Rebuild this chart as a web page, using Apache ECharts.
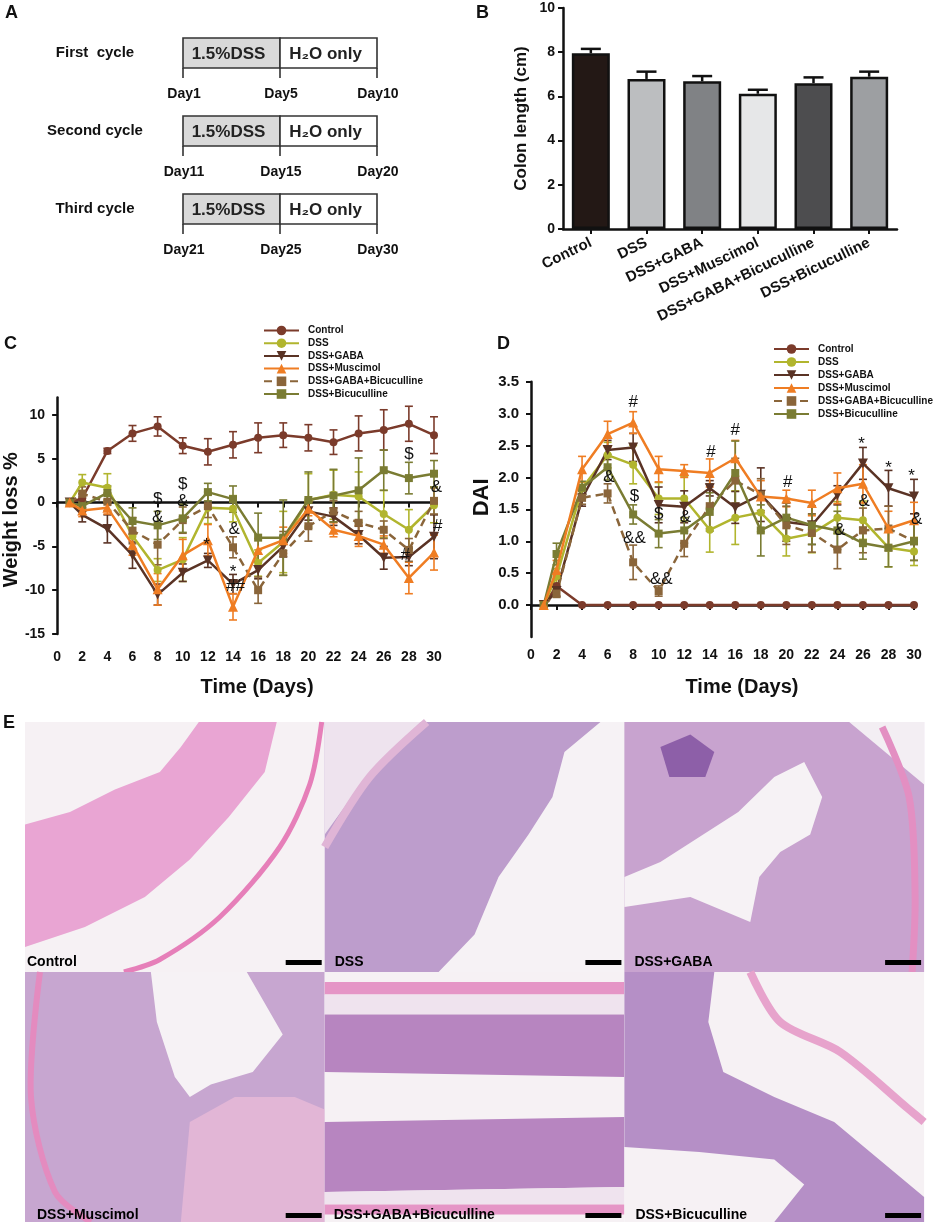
<!DOCTYPE html>
<html><head><meta charset="utf-8">
<script src="https://cdn.jsdelivr.net/npm/echarts@6/dist/echarts.min.js"></script>
<style>html,body{margin:0;padding:0;background:#fff}#c{width:936px;height:1222px}</style>
</head><body><div id="c"></div>
<script>
const FONT = '"Liberation Sans", Arial, Helvetica, sans-serif';
const INK = '#111';

// ---------- Panel A ----------
const cycles = ['First  cycle', 'Second cycle', 'Third cycle'];
const cycleDays = [['Day1', 'Day5', 'Day10'], ['Day11', 'Day15', 'Day20'], ['Day21', 'Day25', 'Day30']];
const phases = ['1.5%DSS', 'H\u2082O only'];

// ---------- Panel B ----------
const groups = ['Control', 'DSS', 'DSS+GABA', 'DSS+Muscimol', 'DSS+GABA+Bicuculline', 'DSS+Bicuculline'];
const colonLength = [7.95, 6.79, 6.68, 6.12, 6.6, 6.89];
const colonErr = [0.2, 0.33, 0.24, 0.18, 0.26, 0.23];

// ---------- Panels C & D ----------
const days = [1, 2, 4, 6, 8, 10, 12, 14, 16, 18, 20, 22, 24, 26, 28, 30];
const seriesNames = ['Control', 'DSS', 'DSS+GABA', 'DSS+Muscimol', 'DSS+GABA+Bicuculline', 'DSS+Bicuculline'];

// Weight loss %
const wControl = [0, 0.5, 5.9, 7.9, 8.7, 6.5, 5.8, 6.6, 7.4, 7.7, 7.4, 6.9, 7.9, 8.3, 9.0, 7.7];
const wControlErr = [0, 0.5, 0.3, 0.9, 1.1, 0.9, 1.5, 1.5, 1.7, 1.4, 1.5, 1.4, 2.0, 2.3, 2.0, 2.1];
const wDSS = [0, 2.3, 1.7, -3.8, -7.7, -6.5, -0.6, -0.7, -6.9, -4.5, 0.3, 0.9, 0.7, -1.3, -3.1, -0.3];
const wDSSErr = [0, 0.9, 1.6, 1.5, 1.3, 2.5, 1.8, 1.5, 1.5, 3.5, 3.0, 2.8, 2.8, 2.7, 2.3, 2.0];
const wGABA = [0, -1.4, -3.0, -6.0, -10.5, -8.0, -6.6, -9.3, -7.7, -5.0, -1.0, -1.6, -3.7, -6.3, -6.2, -3.9];
const wGABAErr = [0, 0.8, 1.6, 1.5, 1.2, 1.0, 0.8, 1.1, 1.0, 1.2, 1.0, 1.0, 1.0, 1.3, 1.0, 2.5];
const wMusc = [0, -0.9, -0.6, -4.8, -9.9, -6.0, -4.3, -11.9, -5.4, -4.3, -0.7, -3.1, -3.8, -4.8, -8.6, -5.7];
const wMuscErr = [0, 0.7, 0.7, 1.2, 1.8, 1.8, 1.8, 1.5, 1.3, 1.5, 0.8, 0.8, 1.2, 1.0, 1.8, 2.0];
const wGABABic = [0, 1.0, 0.1, -3.2, -4.8, -2.0, -0.4, -5.1, -10.0, -5.8, -2.7, -1.0, -2.3, -3.1, -5.4, 0.2];
const wGABABicErr = [0, 0.8, 1.0, 1.5, 2.3, 1.5, 1.3, 1.2, 1.5, 2.5, 1.7, 1.2, 1.3, 1.0, 1.3, 1.5];
const wBic = [0, -0.4, 1.1, -2.1, -2.6, -1.8, 1.2, 0.4, -4.0, -4.0, 0.3, 0.8, 1.4, 3.7, 2.8, 3.3];
const wBicErr = [0, 0.6, 0.8, 1.5, 1.6, 1.6, 1.0, 1.5, 2.8, 4.3, 3.2, 3.0, 3.7, 2.3, 1.8, 1.5];
const yTicksC = [-15, -10, -5, 0, 5, 10];
const marksC = [
  [8, 0.4, '$'], [8, -1.7, '&'], [10, 2.1, '$'], [10, 0.1, '&'], [11.9, -4.3, '*'],
  [14.1, -3.1, '&'], [14, -7.4, '*'], [14.2, -9.5, '##'], [28, 5.5, '$'], [27.7, -6.0, '#'],
  [30.2, 1.8, '&'], [30.3, -2.7, '#']
];

// DAI
const dControl = [0, 0.3, 0, 0, 0, 0, 0, 0, 0, 0, 0, 0, 0, 0, 0, 0];
const dControlErr = [0, 0, 0, 0, 0, 0, 0, 0, 0, 0, 0, 0, 0, 0, 0, 0];
const dDSS = [0, 0.45, 1.83, 2.35, 2.2, 1.67, 1.67, 1.18, 1.37, 1.45, 1.04, 1.12, 1.37, 1.33, 0.9, 0.84];
const dDSSErr = [0, 0.12, 0.1, 0.2, 0.3, 0.25, 0.35, 0.35, 0.42, 0.3, 0.27, 0.3, 0.25, 0.3, 0.3, 0.22];
const dGABA = [0, 0.22, 1.67, 2.43, 2.47, 1.57, 1.54, 1.83, 1.53, 1.73, 1.3, 1.25, 1.72, 2.22, 1.83, 1.7];
const dGABAErr = [0, 0.08, 0.12, 0.15, 0.22, 0.28, 0.25, 0.12, 0.25, 0.42, 0.3, 0.3, 0.15, 0.25, 0.28, 0.27];
const dMusc = [0, 0.55, 2.13, 2.68, 2.86, 2.13, 2.1, 2.07, 2.3, 1.7, 1.67, 1.6, 1.83, 1.9, 1.2, 1.33];
const dMuscErr = [0, 0.15, 0.2, 0.2, 0.17, 0.2, 0.1, 0.22, 0.28, 0.25, 0.13, 0.2, 0.24, 0.3, 0.27, 0.28];
const dGABABic = [0, 0.18, 1.68, 1.75, 0.67, 0.22, 0.96, 1.55, 1.95, 1.73, 1.25, 1.13, 0.87, 1.17, 1.2, 1.0];
const dGABABicErr = [0, 0.06, 0.1, 0.15, 0.27, 0.08, 0.2, 0.35, 0.35, 0.25, 0.3, 0.3, 0.3, 0.35, 0.35, 0.3];
const dBic = [0, 0.8, 1.84, 2.16, 1.42, 1.12, 1.17, 1.46, 2.07, 1.17, 1.37, 1.25, 1.17, 0.97, 0.9, 1.0];
const dBicErr = [0, 0.17, 0.1, 0.2, 0.15, 0.22, 0.2, 0.3, 0.5, 0.4, 0.3, 0.3, 0.3, 0.25, 0.3, 0.3];
const yTicksD = [0, 0.5, 1, 1.5, 2, 2.5, 3, 3.5];
const marksD = [
  [8, 3.17, '#'], [6.1, 2.0, '&'], [8.1, 1.71, '$'], [8.1, 1.05, '&&'], [10, 1.43, '$'],
  [10.2, 0.4, '&&'], [12.1, 1.37, '&'], [14.1, 2.4, '#'], [16, 2.74, '#'], [20.1, 1.92, '#'],
  [24.2, 1.17, '&'], [25.9, 2.6, '*'], [26.1, 1.62, '&'], [28, 2.22, '*'], [29.8, 2.09, '*'],
  [30.2, 1.34, '&']
];

// ---------- Panel E labels ----------
const photoLabels = ['Control', 'DSS', 'DSS+GABA', 'DSS+Muscimol', 'DSS+GABA+Bicuculline', 'DSS+Bicuculline'];

// ---------- styles ----------
const barColors = ['#231815', '#bcbec0', '#808285', '#e6e7e8', '#4d4d4f', '#9d9fa2'];
const lineColors = ['#7b3b2b', '#b1b52e', '#5a3325', '#ef7d23', '#8a653a', '#7a7c33'];
const symbols = ['circle', 'circle', 'triangle', 'triangle', 'rect', 'rect'];
const symbolRot = [0, 0, 180, 0, 0, 0];
const symbolSizes = [8, 8, 10, 10, 8, 8];
const dashed = [false, false, false, false, true, false];

const wVals = [wControl, wDSS, wGABA, wMusc, wGABABic, wBic];
const wErrs = [wControlErr, wDSSErr, wGABAErr, wMuscErr, wGABABicErr, wBicErr];
const dVals = [dControl, dDSS, dGABA, dMusc, dGABABic, dBic];
const dErrs = [dControlErr, dDSSErr, dGABAErr, dMuscErr, dGABABicErr, dBicErr];

// ---------- helpers ----------
function errBarRender(color, capW, lw, upOnly) {
  return function (params, api) {
    const x = api.value(0), lo = api.value(1), hi = api.value(2);
    if (hi === lo) return null;
    const p1 = api.coord([x, lo]), p2 = api.coord([x, hi]);
    const st = { stroke: color, lineWidth: lw };
    const ch = [
      { type: 'line', shape: { x1: p1[0], y1: p1[1], x2: p2[0], y2: p2[1] }, style: st },
      { type: 'line', shape: { x1: p2[0] - capW / 2, y1: p2[1], x2: p2[0] + capW / 2, y2: p2[1] }, style: st }
    ];
    if (!upOnly) ch.push({ type: 'line', shape: { x1: p1[0] - capW / 2, y1: p1[1], x2: p1[0] + capW / 2, y2: p1[1] }, style: st });
    return { type: 'group', children: ch };
  };
}
function markRender(marks) {
  return function (params, api) {
    const m = marks[params.dataIndex];
    const p = api.coord([m[0], m[1]]);
    const dy = m[2] === '*' ? 5 : 0;
    return { type: 'text', style: { x: p[0], y: p[1] + dy, text: m[2], align: 'center', verticalAlign: 'middle',
      fontSize: 17, fontFamily: FONT, fill: INK } };
  };
}

const series = [];

// Panel A schematic
series.push({
  type: 'custom', xAxisIndex: 0, yAxisIndex: 0, silent: true,
  data: cycles.map((c, i) => [0, i]),
  encode: { x: 0, y: 1 },
  renderItem: function (params, api) {
    const i = params.dataIndex;
    const c0 = api.coord([0, i]), c1 = api.coord([1, i]), c2 = api.coord([2, i]);
    const h = 30, top = c0[1] - h / 2;
    const st = { stroke: '#333', lineWidth: 1.6 };
    const ch = [
      { type: 'rect', shape: { x: c0[0], y: top, width: c1[0] - c0[0], height: h }, style: Object.assign({ fill: '#d9d9d9' }, st) },
      { type: 'rect', shape: { x: c1[0], y: top, width: c2[0] - c1[0], height: h }, style: Object.assign({ fill: '#fff' }, st) },
      { type: 'text', style: { x: (c0[0] + c1[0]) / 2 - 3, y: c0[1] + 1, text: phases[0], align: 'center', verticalAlign: 'middle', fontSize: 17, fontWeight: 'bold', fontFamily: FONT, fill: '#222' } },
      { type: 'text', style: { x: (c1[0] + c2[0]) / 2 - 3, y: c0[1] + 1, text: phases[1], align: 'center', verticalAlign: 'middle', fontSize: 17, fontWeight: 'bold', fontFamily: FONT, fill: '#222' } }
    ];
    [c0, c1, c2].forEach((c, k) => {
      ch.push({ type: 'line', shape: { x1: c[0], y1: top + h, x2: c[0], y2: top + h + 10 }, style: st });
      ch.push({ type: 'text', style: { x: c[0] + 1, y: c0[1] + 41, text: cycleDays[i][k], align: 'center', verticalAlign: 'middle', fontSize: 14, fontWeight: 'bold', fontFamily: FONT, fill: INK } });
    });
    return { type: 'group', children: ch };
  }
});

// Panel B bars
series.push({
  type: 'bar', xAxisIndex: 1, yAxisIndex: 1, barWidth: 38, silent: true,
  data: colonLength.map((v, i) => ({ value: v, itemStyle: { color: barColors[i], borderColor: INK, borderWidth: 2.5 } }))
});
series.push({
  type: 'custom', xAxisIndex: 1, yAxisIndex: 1, silent: true, z: 3,
  data: colonLength.map((v, i) => [i, v, v + colonErr[i]]),
  renderItem: errBarRender(INK, 20, 2.5, true)
});

// Panels C & D lines + error bars
function addLines(vals, errs, ax) {
  vals.forEach((v, i) => {
    series.push({
      type: 'custom', xAxisIndex: ax, yAxisIndex: ax, silent: true, z: 1,
      data: days.map((d, k) => [d, v[k] - errs[i][k], v[k] + errs[i][k]]),
      renderItem: errBarRender(lineColors[i], 8, 1.6, false)
    });
  });
  vals.forEach((v, i) => {
    series.push({
      type: 'line', name: seriesNames[i], xAxisIndex: ax, yAxisIndex: ax, silent: true, z: 2 + (i === 3 ? 1 : 0),
      data: days.map((d, k) => [d, v[k]]),
      symbol: symbols[i], symbolRotate: symbolRot[i], symbolSize: symbolSizes[i], showSymbol: true,
      lineStyle: { color: lineColors[i], width: 2.5, type: dashed[i] ? [8, 5] : 'solid' },
      itemStyle: { color: lineColors[i] }
    });
  });
}
addLines(wVals, wErrs, 2);
addLines(dVals, dErrs, 3);
series.push({ type: 'custom', xAxisIndex: 2, yAxisIndex: 2, silent: true, z: 5, data: marksC.map(m => [m[0], m[1]]), renderItem: markRender(marksC) });
series.push({ type: 'custom', xAxisIndex: 3, yAxisIndex: 3, silent: true, z: 5, data: marksD.map(m => [m[0], m[1]]), renderItem: markRender(marksD) });

// axis styles
const axLine = { show: true, lineStyle: { color: INK, width: 2.5 } };
const axTick = { show: true, length: 5, lineStyle: { color: INK, width: 2 } };
const lab = (size, margin) => ({ color: INK, fontSize: size, fontWeight: 'bold', fontFamily: FONT, margin: margin });

// Panel E decoration (photo placeholders)
const photoShapes = [
  [
    { fill: '#e9a5d3', pts: [[0, 0.41], [0.15, 0.36], [0.3, 0.27], [0.45, 0.2], [0.52, 0.1], [0.58, 0], [0.84, 0], [0.8, 0.2], [0.68, 0.38], [0.55, 0.55], [0.4, 0.7], [0.2, 0.82], [0, 0.9]] },
    { stroke: '#e67fb9', w: 5, pts: [[0.99, 0], [0.95, 0.25], [0.85, 0.5], [0.65, 0.78], [0.45, 0.95], [0.33, 1]] }
  ],
  [
    { fill: '#bd9dcc', pts: [[0, 0], [1, 0], [1, 1], [0, 1]] },
    { fill: '#f6f2f5', pts: [[0.8, 0.12], [0.92, 0], [1, 0], [1, 1], [0.38, 1], [0.5, 0.85], [0.58, 0.62], [0.68, 0.45], [0.76, 0.3]] },
    { fill: '#eee3ee', pts: [[0, 0], [0.32, 0], [0.15, 0.2], [0, 0.45]] },
    { stroke: '#e0b5d6', w: 8, pts: [[0, 0.5], [0.15, 0.22], [0.34, 0]] }
  ],
  [
    { fill: '#c8a3cf', pts: [[0, 0], [1, 0], [1, 1], [0, 1]] },
    { fill: '#f6f2f5', pts: [[0, 0.62], [0.12, 0.56], [0.25, 0.46], [0.38, 0.36], [0.5, 0.22], [0.6, 0.16], [0.66, 0.3], [0.62, 0.45], [0.52, 0.52], [0.45, 0.62], [0.42, 0.8], [0.34, 0.76], [0.22, 0.7], [0, 0.74]] },
    { fill: '#f3eef3', pts: [[0.75, 0], [1, 0], [1, 0.25]] },
    { stroke: '#e38fc2', w: 7, pts: [[0.86, 0.02], [0.95, 0.3], [0.97, 0.7], [0.96, 1]] },
    { fill: '#8d5fa8', pts: [[0.12, 0.1], [0.22, 0.05], [0.3, 0.12], [0.27, 0.22], [0.15, 0.22]] }
  ],
  [
    { fill: '#c7a6d0', pts: [[0, 0], [1, 0], [1, 1], [0, 1]] },
    { fill: '#f6f2f5', pts: [[0.42, 0], [0.74, 0], [0.86, 0.25], [0.76, 0.4], [0.62, 0.45], [0.55, 0.5], [0.5, 0.42], [0.44, 0.2]] },
    { fill: '#e2b6d6', pts: [[0.55, 0.6], [0.7, 0.5], [0.9, 0.5], [1, 0.55], [1, 1], [0.52, 1]] },
    { stroke: '#e48bbf', w: 6, pts: [[0.05, 0], [0.02, 0.5], [0.1, 0.88], [0.22, 1]] }
  ],
  [
    { fill: '#e595c6', pts: [[0, 0.04], [1, 0.04], [1, 0.09], [0, 0.09]] },
    { fill: '#efe3ee', pts: [[0, 0.09], [1, 0.09], [1, 0.17], [0, 0.17]] },
    { fill: '#b785c0', pts: [[0, 0.17], [1, 0.17], [1, 0.42], [0, 0.4]] },
    { fill: '#b785c0', pts: [[0, 0.6], [1, 0.58], [1, 0.86], [0, 0.88]] },
    { fill: '#efe3ee', pts: [[0, 0.88], [1, 0.86], [1, 0.93], [0, 0.93]] },
    { fill: '#e595c6', pts: [[0, 0.93], [1, 0.93], [1, 0.97], [0, 0.97]] }
  ],
  [
    { fill: '#b58fc6', pts: [[0, 0], [0.3, 0], [0.28, 0.2], [0.33, 0.4], [0.5, 0.5], [0.7, 0.6], [0.9, 0.8], [1, 0.9], [1, 1], [0.5, 1], [0.6, 0.85], [0.5, 0.75], [0.25, 0.72], [0, 0.7]] },
    { stroke: '#e7a3cc', w: 8, pts: [[0.42, 0], [0.52, 0.2], [0.72, 0.32], [0.95, 0.55], [1, 0.6]] }
  ]
];
const labelDx = [2, 10, 10, 12, 9, 11];
const graphics = [];
photoLabels.forEach((name, i) => {
  const col = i % 3, row = Math.floor(i / 3);
  const w = 299.7, h = 250;
  const x0 = 25 + col * w, y0 = 722 + row * h;
  graphics.push({ type: 'rect', shape: { x: x0, y: y0, width: w, height: h }, style: { fill: '#f6f1f4' }, silent: true });
  photoShapes[i].forEach(s => {
    const pts = s.pts.map(p => [x0 + p[0] * w, y0 + p[1] * h]);
    if (s.fill) graphics.push({ type: 'polygon', shape: { points: pts }, style: { fill: s.fill }, silent: true });
    else graphics.push({ type: 'polyline', shape: { points: pts, smooth: 0.3 }, style: { stroke: s.stroke, lineWidth: s.w, fill: null }, silent: true });
  });
  const yl = y0 + h - (row === 0 ? 10 : 7);
  graphics.push({ type: 'text', style: { x: x0 + labelDx[i], y: yl, text: name, align: 'left', verticalAlign: 'middle', fontSize: 14, fontWeight: 'bold', fontFamily: FONT, fill: '#000' }, silent: true, z: 10 });
  graphics.push({ type: 'rect', shape: { x: x0 + w - 39, y: yl - 2, width: 36, height: 5 }, style: { fill: '#000' }, silent: true, z: 10 });
});

const legendCommon = {
  data: seriesNames, orient: 'vertical', itemWidth: 35, itemHeight: 12, selectedMode: false,
  textStyle: { fontSize: 10, fontWeight: 'bold', fontFamily: FONT, color: INK, lineHeight: 12, padding: [0, 0, 0, 4] }
};

const option = {
  animation: false,
  backgroundColor: '#fff',
  title: [
    { text: 'A', left: 5, top: 4 }, { text: 'B', left: 476, top: 4 }, { text: 'C', left: 4, top: 335 },
    { text: 'D', left: 497, top: 335 }, { text: 'E', left: 3, top: 714 }
  ].map(t => Object.assign(t, { padding: 0, textStyle: { fontSize: 18, fontWeight: 'bold', fontFamily: FONT, color: INK } })),
  legend: [
    Object.assign({ left: 258, top: 319.5, itemGap: 0.7 }, legendCommon),
    Object.assign({ left: 768, top: 338, itemGap: 1 }, legendCommon)
  ],
  grid: [
    { left: 183, top: 14, width: 194, height: 234 },
    { left: 563, top: 8, width: 334, height: 221 },
    { left: 55, top: 397.5, width: 379, height: 236.5 },
    { left: 531, top: 381.7, width: 383, height: 255.3 }
  ],
  xAxis: [
    { gridIndex: 0, type: 'value', min: 0, max: 2, show: false },
    { gridIndex: 1, type: 'category', data: groups, axisLine: axLine,
      axisTick: Object.assign({ alignWithLabel: true }, axTick),
      axisLabel: Object.assign({ rotate: 26, interval: 0 }, lab(15, 13)) },
    { gridIndex: 2, type: 'value', min: 0, max: 30, interval: 2, splitLine: { show: false },
      axisLine: axLine, axisTick: axTick, axisLabel: lab(14, 16),
      name: 'Time (Days)', nameLocation: 'middle', nameGap: 43,
      nameTextStyle: { fontSize: 20, fontWeight: 'bold', fontFamily: FONT, color: INK, padding: [0, 0, 0, 23] } },
    { gridIndex: 3, type: 'value', min: 0, max: 30, interval: 2, splitLine: { show: false },
      axisLine: axLine, axisTick: axTick, axisLabel: lab(14, 11),
      name: 'Time (Days)', nameLocation: 'middle', nameGap: 40,
      nameTextStyle: { fontSize: 20, fontWeight: 'bold', fontFamily: FONT, color: INK, padding: [0, 0, 0, 39] } }
  ],
  yAxis: [
    { gridIndex: 0, type: 'category', data: cycles, inverse: true, axisLine: { show: false }, axisTick: { show: false },
      axisLabel: { margin: 88, align: 'center', fontSize: 15, fontWeight: 'bold', fontFamily: FONT, color: INK } },
    { gridIndex: 1, type: 'value', min: 0, max: 10, interval: 2, splitLine: { show: false },
      axisLine: axLine, axisTick: axTick, axisLabel: lab(14, 8),
      name: 'Colon length (cm)', nameLocation: 'middle', nameGap: 33, nameRotate: 90,
      nameTextStyle: { fontSize: 17, fontWeight: 'bold', fontFamily: FONT, color: INK } },
    { gridIndex: 2, type: 'value', min: -15, max: 12, splitLine: { show: false },
      axisLine: axLine,
      axisTick: Object.assign({ customValues: yTicksC }, axTick),
      axisLabel: Object.assign({ customValues: yTicksC }, lab(14, 12)),
      name: 'Weight loss %', nameLocation: 'middle', nameGap: 35, nameRotate: 90,
      nameTextStyle: { fontSize: 20, fontWeight: 'bold', fontFamily: FONT, color: INK, padding: [0, 8, 0, 0] } },
    { gridIndex: 3, type: 'value', min: -0.5, max: 3.5, splitLine: { show: false },
      axisLine: axLine,
      axisTick: Object.assign({ customValues: yTicksD }, axTick),
      axisLabel: Object.assign({ customValues: yTicksD, formatter: v => Number(v).toFixed(1) }, lab(15, 12)),
      name: 'DAI', nameLocation: 'middle', nameGap: 38, nameRotate: 90,
      nameTextStyle: { fontSize: 22, fontWeight: 'bold', fontFamily: FONT, color: INK, padding: [0, 0, 0, 24] } }
  ],
  graphic: graphics,
  series: series
};

const chart = echarts.init(document.getElementById('c'), null, { renderer: 'canvas', width: 936, height: 1222 });
chart.setOption(option);
</script>
</body></html>
